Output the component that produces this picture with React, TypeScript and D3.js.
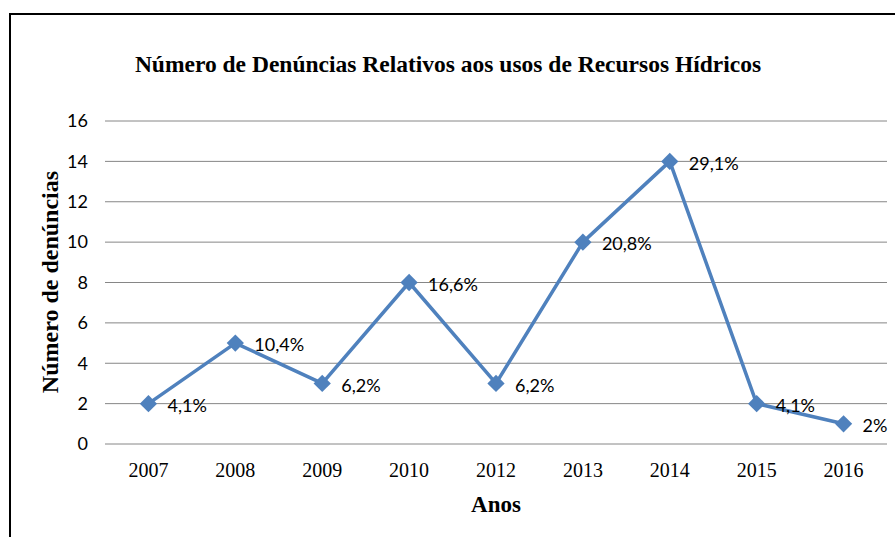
import * as d3 from 'd3';

const years = ['2007', '2008', '2009', '2010', '2012', '2013', '2014', '2015', '2016'];
const complaints = [2, 5, 3, 8, 3, 10, 14, 2, 1];
const shares = ['4,1%', '10,4%', '6,2%', '16,6%', '6,2%', '20,8%', '29,1%', '4,1%', '2%'];
const yTicks = [0, 2, 4, 6, 8, 10, 12, 14, 16];

const W = 895;
const H = 537;
const plot = { left: 105, right: 887, top: 121, bottom: 444 };
const blue = '#4F81BD';
const serif = '"Liberation Serif", "Times New Roman", serif';
const sans = 'Lato, Carlito, Calibri, "Noto Sans", sans-serif';

export default function App() {
  const x = d3.scaleBand<string>().domain(years).range([plot.left, plot.right]);
  const y = d3.scaleLinear().domain([0, 16]).range([plot.bottom, plot.top]);
  const cx = (yr: string) => (x(yr) ?? 0) + x.bandwidth() / 2;

  const line = d3
    .line<number>()
    .x((_, i) => cx(years[i]))
    .y(d => y(d));

  const diamond = d3.symbol().type(d3.symbolDiamond2).size(190)() ?? '';

  return (
    <svg
      width={W}
      height={H}
      style={{ position: 'absolute', left: 0, top: 0, background: '#fff' }}
    >
      <rect x={0} y={0} width={W} height={H} fill="#fff" />
      <path d={`M10,${H} L10,14 L${W},14`} fill="none" stroke="#000" strokeWidth={2} />

      <text
        x={448}
        y={72}
        textAnchor="middle"
        fontFamily={serif}
        fontWeight="bold"
        fontSize={23.5}
        fill="#000"
      >
        Número de Denúncias Relativos aos usos de Recursos Hídricos
      </text>

      {yTicks.map(t => (
        <g key={t}>
          <line x1={plot.left} x2={plot.right} y1={y(t)} y2={y(t)} stroke="#868686" strokeWidth={1} />
          <text
            x={88}
            y={y(t)}
            dy="0.35em"
            textAnchor="end"
            fontFamily={sans}
            fontSize={18}
            fill="#000"
          >
            {t}
          </text>
        </g>
      ))}

      {years.map(yr => (
        <text
          key={yr}
          x={cx(yr)}
          y={477}
          textAnchor="middle"
          fontFamily={serif}
          fontSize={20}
          fill="#000"
        >
          {yr}
        </text>
      ))}

      <text x={496} y={512} textAnchor="middle" fontFamily={serif} fontWeight="bold" fontSize={23} fill="#000">
        Anos
      </text>
      <text
        transform="translate(58,282) rotate(-90)"
        textAnchor="middle"
        fontFamily={serif}
        fontWeight="bold"
        fontSize={24}
        fill="#000"
      >
        Número de denúncias
      </text>

      <path d={line(complaints) ?? ''} fill="none" stroke={blue} strokeWidth={3.5} strokeLinejoin="round" />
      {complaints.map((v, i) => (
        <path key={years[i]} d={diamond} transform={`translate(${cx(years[i])},${y(v)})`} fill={blue} />
      ))}
      {complaints.map((v, i) => (
        <text
          key={`l${years[i]}`}
          x={cx(years[i]) + 19}
          y={y(v) + 2}
          dy="0.35em"
          fontFamily={sans}
          fontSize={18}
          fill="#000"
        >
          {shares[i]}
        </text>
      ))}
    </svg>
  );
}
